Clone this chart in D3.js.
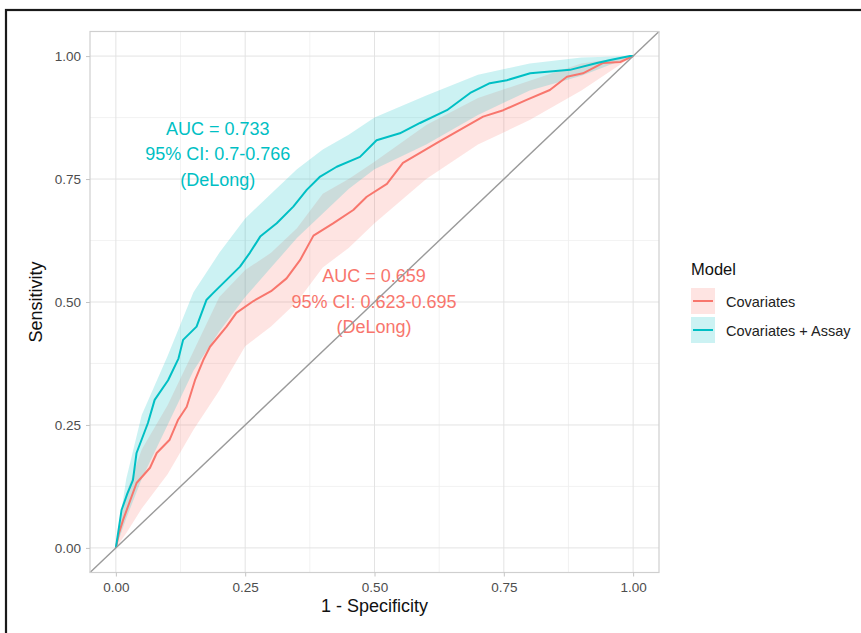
<!DOCTYPE html>
<html lang="en">
<head>
<meta charset="UTF-8">
<title>ROC curves</title>
<style>
  body { margin: 0; background: #fff; }
  svg text { font-family: "Liberation Sans", Arial, sans-serif; }
</style>
</head>
<body>
<script src="https://d3js.org/d3.v7.min.js"></script>
<script>
// ---- data ----
const models = ["Covariates", "Covariates + Assay"];
const colors = ["#F8766D", "#00BFC4"];

// ROC curves: [1 - specificity, sensitivity]
const rocCovariates = [[0,0],[0.006,0.03],[0.014,0.057],[0.040,0.132],[0.066,0.163],[0.079,0.193],[0.104,0.220],
  [0.120,0.260],[0.137,0.287],[0.153,0.341],[0.169,0.382],[0.182,0.409],[0.214,0.450],[0.233,0.478],[0.266,0.502],
  [0.300,0.522],[0.330,0.548],[0.356,0.585],[0.382,0.635],[0.420,0.660],[0.459,0.687],[0.485,0.714],[0.524,0.740],
  [0.555,0.783],[0.588,0.803],[0.620,0.823],[0.665,0.850],[0.710,0.877],[0.749,0.890],[0.794,0.911],[0.839,0.931],
  [0.872,0.958],[0.903,0.965],[0.942,0.986],[0.975,0.988],[1,1]];
const rocAssay = [[0,0],[0.011,0.077],[0.022,0.11],[0.033,0.138],[0.040,0.193],[0.062,0.254],[0.075,0.301],
  [0.101,0.341],[0.121,0.385],[0.130,0.423],[0.156,0.450],[0.175,0.504],[0.188,0.518],[0.214,0.545],[0.240,0.572],
  [0.259,0.600],[0.279,0.633],[0.311,0.660],[0.343,0.694],[0.369,0.728],[0.395,0.755],[0.427,0.775],[0.472,0.795],
  [0.504,0.829],[0.549,0.843],[0.588,0.864],[0.640,0.890],[0.685,0.925],[0.723,0.945],[0.756,0.951],[0.801,0.965],
  [0.878,0.972],[0.930,0.986],[0.956,0.992],[0.994,1.0],[1,1]];

// 95% CI of sensitivity
const bandX  = [0, 0.02, 0.05, 0.1, 0.15, 0.2, 0.25, 0.3, 0.35, 0.4, 0.45, 0.5, 0.6, 0.7, 0.8, 0.9, 1];
const redLo  = [0, 0.03, 0.08, 0.15, 0.24, 0.32, 0.41, 0.45, 0.50, 0.57, 0.61, 0.66, 0.75, 0.82, 0.87, 0.93, 1];
const redHi  = [0, 0.11, 0.20, 0.29, 0.40, 0.51, 0.565, 0.60, 0.65, 0.72, 0.75, 0.785, 0.86, 0.915, 0.95, 0.985, 1];
const tealLo = [0, 0.06, 0.14, 0.25, 0.36, 0.44, 0.51, 0.57, 0.63, 0.68, 0.73, 0.77, 0.82, 0.88, 0.93, 0.96, 1];
const tealHi = [0, 0.14, 0.27, 0.39, 0.52, 0.60, 0.67, 0.72, 0.77, 0.81, 0.84, 0.875, 0.92, 0.962, 0.985, 0.997, 1];

const majorTicks = [0, 0.25, 0.5, 0.75, 1];
const minorTicks = [0.125, 0.375, 0.625, 0.875];

// annotation text: [x, y of first line, lines]
const annoAssay = { x: 0.197, y: 0.840, lines: ["AUC = 0.733", "95% CI: 0.7-0.766", "(DeLong)"] };
const annoCov   = { x: 0.499, y: 0.540, lines: ["AUC = 0.659", "95% CI: 0.623-0.695", "(DeLong)"] };

// ---- layout ----
const width = 861, height = 633;
const panel = { left: 90, right: 659, top: 31.5, bottom: 572.5 };

const svg = d3.select("body").append("svg")
  .attr("width", width).attr("height", height);

svg.append("rect").attr("width", width).attr("height", height).attr("fill", "#fff");

// outer frame from the source figure
svg.append("rect")
  .attr("x", 6).attr("y", 10).attr("width", width).attr("height", height)
  .attr("fill", "none").attr("stroke", "#1a1a1a").attr("stroke-width", 2.2);

const x = d3.scaleLinear().domain([-0.05, 1.05]).range([panel.left, panel.right]);
const y = d3.scaleLinear().domain([-0.05, 1.05]).range([panel.bottom, panel.top]);

const g = svg.append("g");

// grid
g.selectAll(".vminor").data(minorTicks).enter().append("line")
  .attr("x1", d => x(d)).attr("x2", d => x(d))
  .attr("y1", panel.top).attr("y2", panel.bottom)
  .attr("stroke", "#efefef").attr("stroke-width", 0.8);
g.selectAll(".hminor").data(minorTicks).enter().append("line")
  .attr("y1", d => y(d)).attr("y2", d => y(d))
  .attr("x1", panel.left).attr("x2", panel.right)
  .attr("stroke", "#efefef").attr("stroke-width", 0.8);
g.selectAll(".vmajor").data(majorTicks).enter().append("line")
  .attr("x1", d => x(d)).attr("x2", d => x(d))
  .attr("y1", panel.top).attr("y2", panel.bottom)
  .attr("stroke", "#e3e3e3").attr("stroke-width", 1);
g.selectAll(".hmajor").data(majorTicks).enter().append("line")
  .attr("y1", d => y(d)).attr("y2", d => y(d))
  .attr("x1", panel.left).attr("x2", panel.right)
  .attr("stroke", "#e3e3e3").attr("stroke-width", 1);

// CI ribbons
const area = d3.area()
  .x(d => x(d[0])).y0(d => y(d[1])).y1(d => y(d[2]));
const bands = [
  bandX.map((v, i) => [v, redLo[i], redHi[i]]),
  bandX.map((v, i) => [v, tealLo[i], tealHi[i]])
];
g.selectAll(".band").data(bands).enter().append("path")
  .attr("d", area)
  .attr("fill", (d, i) => colors[i]).attr("fill-opacity", 0.2);

// ROC lines
const line = d3.line().x(d => x(d[0])).y(d => y(d[1]));
g.selectAll(".roc").data([rocCovariates, rocAssay]).enter().append("path")
  .attr("d", line)
  .attr("fill", "none")
  .attr("stroke", (d, i) => colors[i])
  .attr("stroke-width", 2)
  .attr("stroke-linejoin", "round");

// annotations
[annoCov, annoAssay].forEach((a, i) => {
  g.append("g").selectAll("text").data(a.lines).enter().append("text")
    .attr("x", x(a.x))
    .attr("y", (d, k) => y(a.y) + k * 25.5)
    .attr("text-anchor", "middle")
    .attr("font-size", 18)
    .attr("fill", colors[i])
    .text(d => d);
});

// chance line
g.append("line")
  .attr("x1", x(-0.05)).attr("y1", y(-0.05))
  .attr("x2", x(1.05)).attr("y2", y(1.05))
  .attr("stroke", "#9a9a9a").attr("stroke-width", 1.4);

// panel border
g.append("rect")
  .attr("x", panel.left).attr("y", panel.top)
  .attr("width", panel.right - panel.left).attr("height", panel.bottom - panel.top)
  .attr("fill", "none").attr("stroke", "#cfcfcf").attr("stroke-width", 1.2);

// axes
const fmt = d3.format(".2f");
const xAxis = svg.append("g")
  .attr("transform", `translate(0,${panel.bottom})`)
  .call(d3.axisBottom(x).tickValues(majorTicks).tickFormat(fmt).tickSize(4).tickPadding(6));
const yAxis = svg.append("g")
  .attr("transform", `translate(${panel.left},0)`)
  .call(d3.axisLeft(y).tickValues(majorTicks).tickFormat(fmt).tickSize(4).tickPadding(5));
[xAxis, yAxis].forEach(a => {
  a.select(".domain").remove();
  a.selectAll(".tick line").attr("stroke", "#c4c4c4").attr("stroke-width", 1);
  a.selectAll(".tick text").attr("fill", "#4d4d4d").attr("font-size", 13.5)
    .attr("font-family", "'Liberation Sans', Arial, sans-serif");
});

svg.append("text")
  .attr("x", (panel.left + panel.right) / 2).attr("y", 612)
  .attr("text-anchor", "middle").attr("font-size", 18).attr("fill", "#111")
  .text("1 - Specificity");
svg.append("text")
  .attr("transform", `translate(42,${(panel.top + panel.bottom) / 2}) rotate(-90)`)
  .attr("text-anchor", "middle").attr("font-size", 18).attr("fill", "#111")
  .text("Sensitivity");

// legend
const legend = svg.append("g").attr("transform", "translate(691,0)");
legend.append("text").attr("x", 0).attr("y", 275)
  .attr("font-size", 16.5).attr("fill", "#111").text("Model");
const keys = legend.selectAll(".key").data(models).enter().append("g")
  .attr("transform", (d, i) => `translate(0,${288 + i * 29})`);
keys.append("rect").attr("width", 24).attr("height", 26)
  .attr("fill", (d, i) => colors[i]).attr("fill-opacity", 0.2);
keys.append("line").attr("x1", 2).attr("x2", 22).attr("y1", 13).attr("y2", 13)
  .attr("stroke", (d, i) => colors[i]).attr("stroke-width", 2);
keys.append("text").attr("x", 35).attr("y", 18.5)
  .attr("font-size", 14.5).attr("fill", "#222").text(d => d);
</script>
</body>
</html>
